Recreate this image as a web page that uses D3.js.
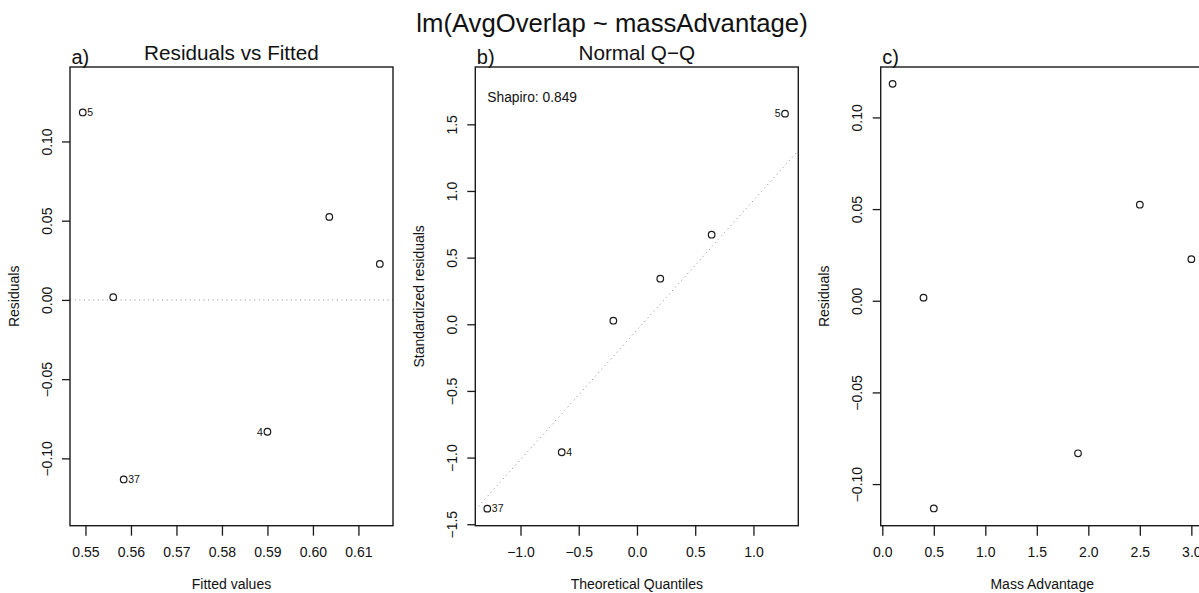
<!DOCTYPE html>
<html>
<head>
<meta charset="utf-8">
<script src="https://cdn.jsdelivr.net/npm/d3@7"></script>
<style>
body { margin: 0; background: #fff; }
text { font-family: "Liberation Sans", Arial, Helvetica, sans-serif; fill: #111; }
</style>
</head>
<body>
<div id="diagnostics"></div>
<script>
// values
const obsLabels     = ['5', '', '', '', '4', '37'];
const massAdvantage = [0.1, 0.4, 2.5, 3.0, 1.9, 0.5];
const fittedValues  = [0.5494, 0.5561, 0.6036, 0.6147, 0.5900, 0.5584];
const residuals     = [0.1183, 0.0017, 0.0524, 0.0227, -0.0832, -0.1133];

const qqLabels      = ['37', '4', '', '', '', '5'];
const qqTheoretical = [-1.285, -0.646, -0.203, 0.200, 0.641, 1.271];
const qqStdResid    = [-1.383, -0.960, 0.027, 0.342, 0.672, 1.580];
const qqIntercept = -0.043, qqSlope = 0.972;
const shapiroW = 0.849;

const fittedTicks = [0.55, 0.56, 0.57, 0.58, 0.59, 0.60, 0.61];
const residTicks  = [-0.10, -0.05, 0.00, 0.05, 0.10];
const quantTicks  = [-1.0, -0.5, 0.0, 0.5, 1.0];
const stdTicks    = [-1.5, -1.0, -0.5, 0.0, 0.5, 1.0, 1.5];
const massTicks   = [0.0, 0.5, 1.0, 1.5, 2.0, 2.5, 3.0];

const fittedDomain = [0.5466, 0.6176];
const residDomainA = [-0.1425, 0.147];
const quantDomain  = [-1.388, 1.385];
const stdDomain    = [-1.511, 1.93];
const massDomain   = [-0.0155, 3.12];
const residDomainC = [-0.1227, 0.1275];

const mainTitle = 'lm(AvgOverlap ~ massAdvantage)';

const width = 1199, height = 593;
const plot_top = 67, plot_bottom = 525.7, plot_width = 323;
const ink = '#1a1a1a';

const fmt = (digits) => (d) => d3.format('.' + digits + 'f')(d).replace('-', '\u2212');

function drawPanel(svg, p) {
    const x = d3.scaleLinear().domain(p.xDomain).range([p.left, p.left + plot_width]);
    const y = d3.scaleLinear().domain(p.yDomain).range([plot_bottom, plot_top]);
    const g = svg.append('g').attr('class', 'panel');

    const clipId = 'clip-' + p.key;
    g.append('clipPath').attr('id', clipId)
        .append('rect')
        .attr('x', p.left).attr('y', plot_top)
        .attr('width', plot_width).attr('height', plot_bottom - plot_top);

    // reference lines (grey dotted)
    if (p.hline !== undefined) {
        g.append('line')
            .attr('x1', p.left).attr('x2', p.left + plot_width)
            .attr('y1', y(p.hline)).attr('y2', y(p.hline))
            .attr('stroke', '#9a9a9a').attr('stroke-width', 1)
            .attr('stroke-dasharray', '1.2,3.4');
    }
    if (p.abline) {
        const xs = p.xDomain;
        g.append('line')
            .attr('clip-path', 'url(#' + clipId + ')')
            .attr('x1', x(xs[0])).attr('y1', y(p.abline.a + p.abline.b * xs[0]))
            .attr('x2', x(xs[1])).attr('y2', y(p.abline.a + p.abline.b * xs[1]))
            .attr('stroke', '#9a9a9a').attr('stroke-width', 1)
            .attr('stroke-dasharray', '1.2,3.4');
    }

    // axes
    const xAxis = g.append('g')
        .attr('transform', 'translate(0,' + plot_bottom + ')')
        .call(d3.axisBottom(x).tickValues(p.xTicks).tickFormat(p.xFmt).tickSizeInner(10).tickSizeOuter(0));
    xAxis.select('.domain').remove();
    xAxis.selectAll('.tick line').attr('stroke', ink).attr('stroke-width', 1.3);
    xAxis.selectAll('.tick text')
        .attr('y', 31).attr('dy', 0)
        .attr('font-size', 14).attr('fill', ink)
        .style('font-family', '"Liberation Sans", Arial, sans-serif');

    const yAxis = g.append('g')
        .attr('transform', 'translate(' + p.left + ',0)')
        .call(d3.axisLeft(y).tickValues(p.yTicks).tickFormat(p.yFmt).tickSizeInner(8).tickSizeOuter(0));
    yAxis.select('.domain').remove();
    yAxis.selectAll('.tick line').attr('stroke', ink).attr('stroke-width', 1.3);
    yAxis.selectAll('.tick text')
        .attr('transform', 'rotate(-90)')
        .attr('x', 0).attr('y', -18.5).attr('dy', 0)
        .attr('text-anchor', 'middle')
        .attr('font-size', 14).attr('fill', ink)
        .style('font-family', '"Liberation Sans", Arial, sans-serif');

    // box
    g.append('rect')
        .attr('x', p.left).attr('y', plot_top)
        .attr('width', plot_width).attr('height', plot_bottom - plot_top)
        .attr('fill', 'none').attr('stroke', ink).attr('stroke-width', 1.4);

    // points
    const pts = p.xs.map((v, i) => ({x: v, y: p.ys[i], label: p.labels ? p.labels[i] : ''}));
    g.selectAll('circle.pt')
        .data(pts)
        .enter()
        .append('circle')
        .attr('class', 'pt')
        .attr('cx', d => x(d.x))
        .attr('cy', d => y(d.y))
        .attr('r', 3.3)
        .attr('fill', 'none')
        .attr('stroke', ink)
        .attr('stroke-width', 1.2);

    const mid = (p.xDomain[0] + p.xDomain[1]) / 2;
    g.selectAll('text.id')
        .data(pts.filter(d => d.label !== ''))
        .enter()
        .append('text')
        .attr('class', 'id')
        .attr('x', d => x(d.x) + (d.x < mid ? 4.5 : -4.5))
        .attr('y', d => y(d.y))
        .attr('dy', '0.36em')
        .attr('text-anchor', d => d.x < mid ? 'start' : 'end')
        .attr('font-size', 10.5)
        .text(d => d.label);

    // titles and labels
    g.append('text')
        .attr('x', p.left + plot_width / 2).attr('y', 60)
        .attr('text-anchor', 'middle').attr('font-size', 20.7)
        .text(p.title);
    g.append('text')
        .attr('x', p.left + 1.5).attr('y', 63.5)
        .attr('font-size', 20)
        .text(p.tag);
    g.append('text')
        .attr('x', p.left + plot_width / 2).attr('y', 588.5)
        .attr('text-anchor', 'middle').attr('font-size', 14)
        .text(p.xLabel);
    g.append('text')
        .attr('transform', 'translate(' + (p.left - 51.5) + ',' + ((plot_top + plot_bottom) / 2) + ') rotate(-90)')
        .attr('text-anchor', 'middle').attr('font-size', 14)
        .text(p.yLabel);
    if (p.note) {
        g.append('text')
            .attr('x', p.left + 12).attr('y', 101.7)
            .attr('font-size', 13.8)
            .text(p.note);
    }
}

let svg = d3.select('#diagnostics')
    .append('svg')
    .attr('width', width)
    .attr('height', height);

svg.append('text')
    .attr('x', 612).attr('y', 31.7)
    .attr('text-anchor', 'middle')
    .attr('font-size', 25.7)
    .text(mainTitle);

drawPanel(svg, {
    key: 'a', left: 70, tag: 'a)', title: 'Residuals vs Fitted',
    xs: fittedValues, ys: residuals, labels: obsLabels,
    xDomain: fittedDomain, yDomain: residDomainA,
    xTicks: fittedTicks, yTicks: residTicks, xFmt: fmt(2), yFmt: fmt(2),
    xLabel: 'Fitted values', yLabel: 'Residuals', hline: 0
});

drawPanel(svg, {
    key: 'b', left: 475.3, tag: 'b)', title: 'Normal Q\u2212Q',
    xs: qqTheoretical, ys: qqStdResid, labels: qqLabels,
    xDomain: quantDomain, yDomain: stdDomain,
    xTicks: quantTicks, yTicks: stdTicks, xFmt: fmt(1), yFmt: fmt(1),
    xLabel: 'Theoretical Quantiles', yLabel: 'Standardized residuals',
    abline: {a: qqIntercept, b: qqSlope},
    note: 'Shapiro: ' + shapiroW.toFixed(3)
});

drawPanel(svg, {
    key: 'c', left: 880.7, tag: 'c)', title: '',
    xs: massAdvantage, ys: residuals, labels: null,
    xDomain: massDomain, yDomain: residDomainC,
    xTicks: massTicks, yTicks: residTicks, xFmt: fmt(1), yFmt: fmt(2),
    xLabel: 'Mass Advantage', yLabel: 'Residuals'
});
</script>
</body>
</html>
